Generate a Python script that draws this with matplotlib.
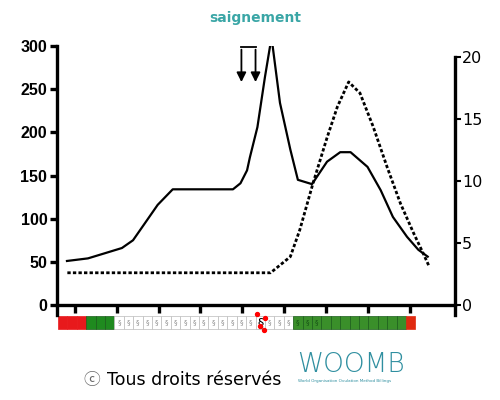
import numpy as np
import matplotlib.pyplot as plt
from matplotlib.patches import Rectangle

# solid curve (left axis)
solid_day = [0.96, 3.19, 5.0, 6.8, 7.98, 9.26, 10.6, 12.2, 18.6, 19.4, 20.1, 20.4,
             21.2, 22.0, 22.7, 23.6, 24.7, 25.5, 27.0, 28.6, 30.0, 31.1, 32.9, 34.3,
             35.6, 37.1, 38.3, 39.3]
solid_val = [51, 54, 60, 66, 75, 95, 116, 134, 134, 141, 156, 171,
             206, 264, 310, 234, 180, 145, 140, 166, 177, 177, 160, 133,
             102, 79, 64, 56]

# dotted curve (right axis)
dot_day = [1.0, 22.6, 23.9, 24.7, 25.7, 27.1, 28.6, 29.7, 30.9, 32.1, 33.5, 35.0,
           36.4, 37.8, 38.8, 39.4]
dot_val = [2.6, 2.6, 3.4, 3.9, 6.05, 9.8, 13.5, 16.0, 18.0, 17.1, 14.4, 11.1,
           8.2, 5.8, 4.2, 3.2]

# cycle strip: one colour per day
cell_colors = (['#e8191c'] * 3 + ['#1f8a1f'] * 3 + ['white'] * 19
               + ['#3a8f2a'] * 12 + ['#e02a10'])
stamp_days = list(range(6, 21)) + [22, 23, 24]
dark_stamp_days = [25, 26, 27]
peak_day = 21

left_ticks = [0, 50, 100, 150, 200, 250, 300]
right_ticks = [0, 5, 10, 15, 20]

fig = plt.figure(figsize=(5, 4), dpi=100)
ax = fig.add_axes([0.114, 0.2375, 0.796, 0.6475])
ax2 = ax.twinx()

ax.plot(solid_day, solid_val, color='black', lw=1.6)
ax2.plot(dot_day, dot_val, color='black', lw=2, linestyle=(0, (1.2, 0.8)))

ax.set_xlim(-0.1, 42.2)
ax.set_ylim(0, 300)
ax2.set_ylim(0, 20.9)

for a in (ax, ax2):
    a.spines['top'].set_visible(False)
ax.spines['right'].set_visible(False)
ax2.spines['left'].set_visible(False)
ax2.spines['bottom'].set_visible(False)
ax.spines['left'].set_linewidth(2.4)
ax.spines['bottom'].set_linewidth(2.4)
ax2.spines['right'].set_linewidth(2.4)
ax.spines['left'].set_bounds(-12, 300)
ax2.spines['right'].set_bounds(-0.8, 20)

ax.set_yticks(left_ticks)
ax.set_yticklabels([str(t) for t in left_ticks], family=['Liberation Sans', 'DejaVu Sans'],
                   fontweight='bold', fontsize=11.5)
ax.tick_params(axis='y', length=5, width=2.4, pad=2)
ax.set_xticks(np.linspace(1.8, 37.4, 9))
ax.set_xticklabels([])
ax.tick_params(axis='x', length=6, width=2.4, direction='out')

ax2.set_yticks(right_ticks)
ax2.set_yticklabels([str(t) for t in right_ticks], fontsize=11.5)
ax2.tick_params(axis='y', length=4, width=1.5, pad=1)

# bleeding arrows
ax.annotate('', xy=(19.5, 255), xytext=(19.5, 299),
            arrowprops=dict(arrowstyle='-|>', color='black', lw=1.3, mutation_scale=14))
ax.annotate('', xy=(21.0, 255), xytext=(21.0, 299),
            arrowprops=dict(arrowstyle='-|>', color='black', lw=1.3, mutation_scale=14))
ax.plot([19.5, 21.0], [299, 299], color='black', lw=1.3, clip_on=False)

fig.text(0.51, 0.955, 'saignement', color='#3aa6a6', fontsize=10, fontweight='bold',
         ha='center', va='center')

# cycle strip under the axis
tr = ax.get_xaxis_transform()
for i, c in enumerate(cell_colors):
    edge = '#bbbbbb' if c == 'white' else '#1a5c1a' if c in ('#1f8a1f', '#3a8f2a') else c
    ax.add_patch(Rectangle((i, -0.0927), 1, 0.0502, facecolor=c, edgecolor=edge,
                           lw=0.5, transform=tr, clip_on=False))
for d in stamp_days:
    ax.text(d + 0.5, -0.067, '§', fontsize=5, color='#888888', ha='center', va='center',
            transform=tr, clip_on=False)
for d in dark_stamp_days:
    ax.text(d + 0.5, -0.067, '§', fontsize=5, color='#144d14', ha='center', va='center',
            transform=tr, clip_on=False)
ax.add_patch(Rectangle((peak_day, -0.0927), 1, 0.0502, facecolor='white', edgecolor='#bbbbbb',
                       lw=0.5, transform=tr, clip_on=False))
ax.text(peak_day + 0.5, -0.066, '§', fontsize=9, color='black', ha='center', va='center',
        transform=tr, clip_on=False)
ax.scatter([peak_day + 0.2, peak_day + 1.0, peak_day + 0.5, peak_day + 0.9],
           [-0.035, -0.05, -0.08, -0.095], s=8, color='red', transform=tr, clip_on=False, zorder=5)

# footer
fig.text(0.166, 0.05, '\u24d2', fontsize=12, color='#666666', va='center',
         family=['Noto Sans CJK JP', 'DejaVu Sans'])
fig.text(0.214, 0.05, 'Tous droits réservés', fontsize=12.5, color='black', va='center')
fig.text(0.594, 0.088, 'WOOMB', fontsize=19, color='#2f8fa0', fontweight='light',
         va='center', ha='left')
fig.text(0.596, 0.047, 'World Organisation Ovulation Method Billings', fontsize=3,
         color='#2f8fa0', va='center', ha='left')

fig.savefig('out.png', dpi=100)
